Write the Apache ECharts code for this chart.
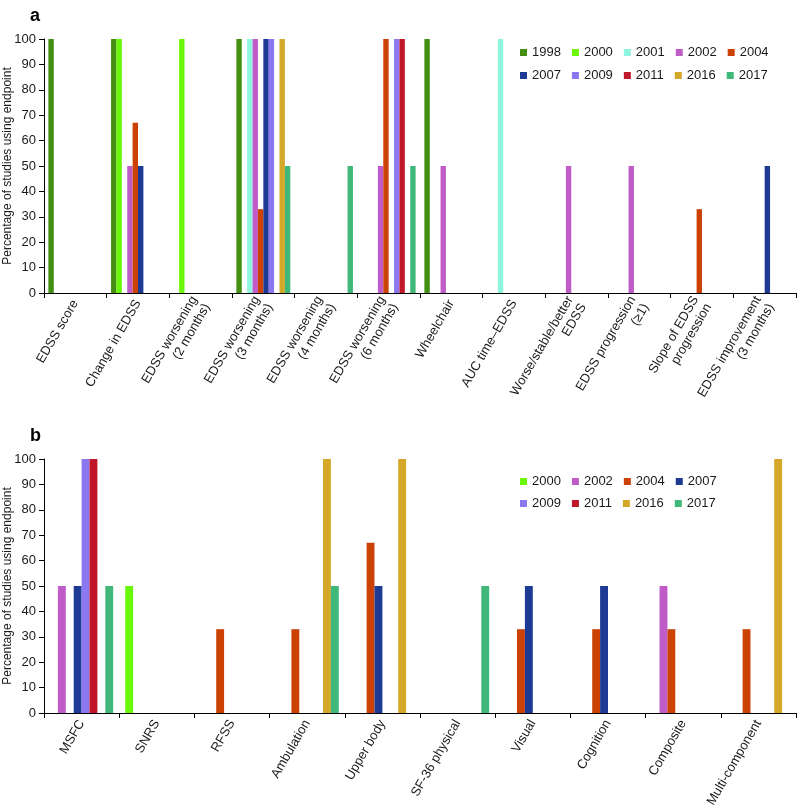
<!DOCTYPE html>
<html>
<head>
<meta charset="utf-8">
<script src="https://cdn.jsdelivr.net/npm/echarts@6/dist/echarts.min.js"></script>
<style>html,body{margin:0;padding:0;background:#fff;}#c{width:798px;height:807px;}</style>
</head>
<body>
<div id="c"></div>
<script>
// Panel a
const catsA = ['EDSS score', 'Change in EDSS', 'EDSS worsening\n(2 months)', 'EDSS worsening\n(3 months)', 'EDSS worsening\n(4 months)', 'EDSS worsening\n(6 months)', 'Wheelchair', 'AUC time\u2013EDSS', 'Worse/stable/better\nEDSS', 'EDSS progression\n(\u22651)', 'Slope of EDSS\nprogression', 'EDSS improvement\n(3 months)'];
const yearsA = ['1998', '2000', '2001', '2002', '2004', '2007', '2009', '2011', '2016', '2017'];
const a1998 = [100, 100, null, 100, null, null, 100, null, null, null, null, null];
const a2000 = [null, 100, 100, null, null, null, null, null, null, null, null, null];
const a2001 = [null, null, null, 100, null, null, null, 100, null, null, null, null];
const a2002 = [null, 50, null, 100, null, 50, 50, null, 50, 50, null, null];
const a2004 = [null, 67, null, 33, null, 100, null, null, null, null, 33, null];
const a2007 = [null, 50, null, 100, null, null, null, null, null, null, null, 50];
const a2009 = [null, null, null, 100, null, 100, null, null, null, null, null, null];
const a2011 = [null, null, null, null, null, 100, null, null, null, null, null, null];
const a2016 = [null, null, null, 100, null, null, null, null, null, null, null, null];
const a2017 = [null, null, null, 50, 50, 50, null, null, null, null, null, null];
const valsA = [a1998, a2000, a2001, a2002, a2004, a2007, a2009, a2011, a2016, a2017];

// Panel b
const catsB = ['MSFC', 'SNRS', 'RFSS', 'Ambulation', 'Upper body', 'SF-36 physical', 'Visual', 'Cognition', 'Composite', 'Multi-component'];
const yearsB = ['2000', '2002', '2004', '2007', '2009', '2011', '2016', '2017'];
const b2000 = [null, 50, null, null, null, null, null, null, null, null];
const b2002 = [50, null, null, null, null, null, null, null, 50, null];
const b2004 = [null, null, 33, 33, 67, null, 33, 33, 33, 33];
const b2007 = [50, null, null, null, 50, null, 50, 50, null, null];
const b2009 = [100, null, null, null, null, null, null, null, null, null];
const b2011 = [100, null, null, null, null, null, null, null, null, null];
const b2016 = [null, null, null, 100, 100, null, null, null, null, 100];
const b2017 = [50, null, null, 50, null, 50, null, null, null, null];
const valsB = [b2000, b2002, b2004, b2007, b2009, b2011, b2016, b2017];

const yTicks = [0, 10, 20, 30, 40, 50, 60, 70, 80, 90, 100];

const colors = {
  '1998': '#428f12', '2000': '#6af808', '2001': '#8ef5de', '2002': '#bf5cc8', '2004': '#cc4205',
  '2007': '#1d3a94', '2009': '#8b78f0', '2011': '#c0182a', '2016': '#d4a828', '2017': '#40b87a'
};

const FONT = "'Liberation Sans', Arial, Helvetica, sans-serif";
const TXT = '#1a1a1a';

function xAxis(idx, cats) {
  return {
    type: 'category', gridIndex: idx, data: cats,
    axisLine: { lineStyle: { color: '#000', width: 1 } },
    axisTick: { show: true, length: 5, lineStyle: { color: '#000' } },
    axisLabel: { rotate: 60, margin: 8, fontSize: 13, color: TXT, fontFamily: FONT, lineHeight: 15, interval: 0 }
  };
}
function yAxis(idx) {
  return {
    type: 'value', gridIndex: idx, min: 0, max: 100, interval: 10,
    name: 'Percentage of studies using endpoint', nameLocation: 'middle', nameGap: 30,
    nameMoveOverlap: false,
    nameTextStyle: { fontSize: 12, color: TXT, fontFamily: FONT },
    axisLine: { show: true, lineStyle: { color: '#000', width: 1 } },
    axisTick: { show: true, length: 5, lineStyle: { color: '#000' } },
    axisLabel: { fontSize: 13, color: TXT, fontFamily: FONT, margin: 8,
      formatter: v => (yTicks.indexOf(v) >= 0 ? String(v) : '') },
    splitLine: { show: false }
  };
}

const series = [];
yearsA.forEach((y, i) => series.push({
  name: y, type: 'bar', xAxisIndex: 0, yAxisIndex: 0, data: valsA[i],
  barGap: '0%', barCategoryGap: '14%', itemStyle: { color: colors[y] }, animation: false
}));
yearsB.forEach((y, i) => series.push({
  name: y, type: 'bar', xAxisIndex: 1, yAxisIndex: 1, data: valsB[i],
  barGap: '0%', barCategoryGap: '16%', itemStyle: { color: colors[y] }, animation: false
}));

function legend(data, left, top) {
  return {
    data: data, left: left, top: top, orient: 'horizontal', itemWidth: 7, itemHeight: 7,
    itemGap: 11, icon: 'rect', selectedMode: false,
    textStyle: { fontSize: 13, color: TXT, fontFamily: FONT, padding: [0, 0, 0, 0] },
    padding: 0
  };
}

const option = {
  animation: false,
  backgroundColor: '#fff',
  title: [
    { text: 'a', left: 30, top: 7, textStyle: { fontSize: 18, fontWeight: 'bold', color: '#000', fontFamily: FONT }, padding: 0 },
    { text: 'b', left: 30, top: 427, textStyle: { fontSize: 18, fontWeight: 'bold', color: '#000', fontFamily: FONT }, padding: 0 }
  ],
  legend: [
    legend(yearsA.slice(0, 5), 520, 46),
    legend(yearsA.slice(5), 520, 69),
    legend(yearsB.slice(0, 4), 520, 475),
    legend(yearsB.slice(4), 520, 497)
  ],
  grid: [
    { left: 44, right: 2, top: 39, bottom: 514, containLabel: false, outerBoundsMode: 'none' },
    { left: 44, right: 2, top: 459, bottom: 94, containLabel: false, outerBoundsMode: 'none' }
  ],
  xAxis: [xAxis(0, catsA), xAxis(1, catsB)],
  yAxis: [yAxis(0), yAxis(1)],
  series: series
};

const chart = echarts.init(document.getElementById('c'), null, { renderer: 'canvas' });
chart.setOption(option);
</script>
</body>
</html>
